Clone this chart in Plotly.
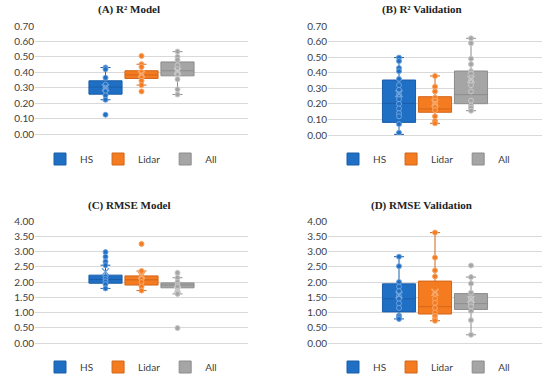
import plotly.graph_objects as go
import numpy as np

series = ["HS", "Lidar", "All"]
fill_colors = ["#1F6FC5", "#F47B20", "#A5A5A5"]
line_colors = ["#1A5EA8", "#D2661A", "#8C8C8C"]
point_edge = ["#6FA3DC", "#F8A86A", "#C8C8C8"]
titles = ["(A) R² Model", "(B) R² Validation", "(C) RMSE Model", "(D) RMSE Validation"]

# ---- (A) R2 Model ----
a_q1 = [0.258, 0.360, 0.377]
a_med = [0.304, 0.383, 0.410]
a_q3 = [0.345, 0.410, 0.467]
a_lo = [0.222, 0.317, 0.256]
a_hi = [0.431, 0.452, 0.534]
a_pts_hs = [0.431, 0.420, 0.365, 0.320, 0.300, 0.290, 0.280, 0.250, 0.222, 0.125]
a_pts_lidar = [0.506, 0.452, 0.435, 0.400, 0.380, 0.370, 0.345, 0.317, 0.276]
a_pts_all = [0.534, 0.500, 0.480, 0.445, 0.420, 0.400, 0.390, 0.355, 0.290, 0.256]

# ---- (B) R2 Validation ----
b_q1 = [0.081, 0.146, 0.201]
b_med = [0.203, 0.167, 0.259]
b_q3 = [0.353, 0.246, 0.411]
b_lo = [0.004, 0.075, 0.156]
b_hi = [0.497, 0.379, 0.621]
b_pts_hs = [0.497, 0.475, 0.430, 0.410, 0.360, 0.320, 0.290, 0.260, 0.230, 0.200, 0.170, 0.140, 0.120, 0.070, 0.015]
b_pts_lidar = [0.379, 0.310, 0.280, 0.240, 0.220, 0.200, 0.180, 0.160, 0.120, 0.090, 0.075]
b_pts_all = [0.621, 0.590, 0.490, 0.455, 0.410, 0.395, 0.350, 0.320, 0.280, 0.220, 0.190, 0.175, 0.156]

# ---- (C) RMSE Model ----
c_q1 = [1.96, 1.90, 1.81]
c_med = [2.08, 2.07, 1.90]
c_q3 = [2.225, 2.20, 1.97]
c_lo = [1.79, 1.72, 1.61]
c_hi = [2.55, 2.36, 2.14]
c_pts_hs = [2.98, 2.83, 2.67, 2.55, 2.18, 2.10, 2.02, 1.93, 1.79]
c_pts_lidar = [3.25, 2.36, 2.20, 2.10, 2.00, 1.85, 1.72]
c_pts_all = [2.30, 2.14, 2.00, 1.90, 1.85, 1.70, 1.65, 1.61, 0.49]

# ---- (D) RMSE Validation ----
d_q1 = [1.02, 0.95, 1.10]
d_med = [1.45, 1.19, 1.29]
d_q3 = [1.94, 2.03, 1.62]
d_lo = [0.79, 0.73, 0.27]
d_hi = [2.83, 3.62, 2.16]
d_pts_hs = [2.83, 2.52, 2.00, 1.85, 1.70, 1.55, 1.45, 1.30, 1.15, 0.90, 0.85, 0.79]
d_pts_lidar = [3.62, 2.80, 2.38, 2.18, 1.62, 1.45, 1.32, 1.15, 1.00, 0.88, 0.78, 0.73]
d_pts_all = [2.54, 2.16, 1.95, 1.65, 1.45, 1.40, 1.30, 1.20, 1.05, 0.75, 0.27]

panels = [
    (a_q1, a_med, a_q3, a_lo, a_hi, [a_pts_hs, a_pts_lidar, a_pts_all]),
    (b_q1, b_med, b_q3, b_lo, b_hi, [b_pts_hs, b_pts_lidar, b_pts_all]),
    (c_q1, c_med, c_q3, c_lo, c_hi, [c_pts_hs, c_pts_lidar, c_pts_all]),
    (d_q1, d_med, d_q3, d_lo, d_hi, [d_pts_hs, d_pts_lidar, d_pts_all]),
]

W, H = 550, 376
# plot areas in pixels: (x0, x1, ytop, ybottom)
areas = [(35, 248, 26, 134), (328, 542, 26, 135), (35, 248, 221, 343), (328, 542, 221, 343)]
title_pos = [(129, 10), (422, 10), (129, 205), (422, 205)]
legend_pos = [(131, 159), (424, 159), (131, 367), (424, 367)]
yranges = [(0, 0.7, 0.1), (0, 0.7, 0.1), (0, 4.0, 0.5), (0, 4.0, 0.5)]

fig = go.Figure()
layout = dict(width=W, height=H, margin=dict(l=0, r=0, t=0, b=0, autoexpand=False),
              paper_bgcolor="white", plot_bgcolor="white", showlegend=True,
              boxmode="overlay")
annotations = []

for p, (q1, med, q3, lo, hi, pts) in enumerate(panels):
    n = p + 1
    xa = "x" if n == 1 else f"x{n}"
    ya = "y" if n == 1 else f"y{n}"
    lg = "legend" if n == 1 else f"legend{n}"
    for i, s in enumerate(series):
        fig.add_trace(go.Box(
            x=[s], q1=[q1[i]], median=[med[i]], q3=[q3[i]],
            lowerfence=[lo[i]], upperfence=[hi[i]],
            name=s, fillcolor=fill_colors[i],
            line=dict(color=line_colors[i], width=1),
            width=0.92, whiskerwidth=0.3, boxpoints=False,
            xaxis=xa, yaxis=ya, legend=lg, showlegend=True, hoverinfo="skip"))
    for i, s in enumerate(series):
        fig.add_trace(go.Scatter(
            x=[s] * len(pts[i]), y=pts[i], mode="markers",
            marker=dict(size=5, color=fill_colors[i], line=dict(color=point_edge[i], width=1)),
            xaxis=xa, yaxis=ya, showlegend=False, hoverinfo="skip"))
        fig.add_trace(go.Scatter(
            x=[s], y=[float(np.mean(pts[i]))], mode="markers",
            marker=dict(symbol="x-thin", size=7, color=point_edge[i], line=dict(color=point_edge[i], width=1.5)),
            xaxis=xa, yaxis=ya, showlegend=False, hoverinfo="skip"))

    x0, x1, yt, yb = areas[p]
    ylo, yhi, dt = yranges[p]
    unit = 36.0
    half = (x1 - x0) / unit / 2
    layout["xaxis" if n == 1 else f"xaxis{n}"] = dict(
        domain=[x0 / W, x1 / W], anchor=ya, type="category", categoryorder="array",
        categoryarray=series, range=[1 - half, 1 + half], showticklabels=False,
        showgrid=False, zeroline=False, showline=True, linecolor="#D9D9D9", linewidth=1,
        fixedrange=True, automargin=False)
    layout["yaxis" if n == 1 else f"yaxis{n}"] = dict(
        domain=[1 - yb / H, 1 - yt / H], anchor=xa, range=[ylo, yhi], dtick=dt,
        tick0=0, tickformat=".2f", showgrid=True, gridcolor="#D9D9D9", gridwidth=1,
        zeroline=False, showline=False, ticks="", automargin=False,
        tickfont=dict(family="Lato", size=10, color="#404040"), fixedrange=True)
    lx, ly = legend_pos[p]
    layout[lg] = dict(orientation="h", x=lx / W, xanchor="center", y=1 - ly / H,
                      yanchor="middle", font=dict(family="Lato", size=10, color="#404040"),
                      itemwidth=30, bgcolor="rgba(0,0,0,0)", traceorder="normal")
    tx, ty = title_pos[p]
    annotations.append(dict(text=f"<b>{titles[p]}</b>", x=tx / W, y=1 - ty / H,
                            xref="paper", yref="paper", xanchor="center", yanchor="middle",
                            showarrow=False,
                            font=dict(family="Liberation Serif", size=11, color="#222222")))

layout["annotations"] = annotations
fig.update_layout(**layout)
fig.write_html("out.html", config={"displayModeBar": False},
               post_script="document.body.style.margin='0';document.body.style.overflow='hidden';")
